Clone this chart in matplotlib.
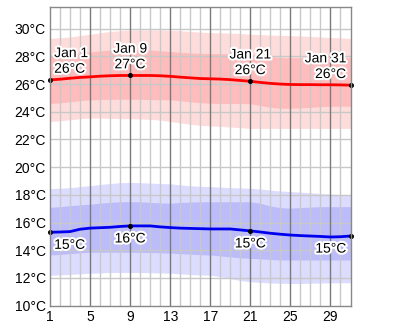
import matplotlib
matplotlib.use("Agg")
import matplotlib.pyplot as plt
import matplotlib.patheffects as pe
import numpy as np

days = list(range(1, 32))

high_mean = [26.3, 26.35, 26.42, 26.48, 26.52, 26.57, 26.6, 26.62, 26.62, 26.62, 26.62, 26.6, 26.56, 26.5,
             26.45, 26.4, 26.38, 26.36, 26.32, 26.26, 26.2, 26.12, 26.05, 26.0, 25.97, 25.96, 25.96, 25.95,
             25.95, 25.94, 25.92]
high_p75 = [28.1, 28.12, 28.18, 28.25, 28.32, 28.4, 28.45, 28.5, 28.5, 28.48, 28.45, 28.4, 28.35, 28.3,
            28.25, 28.22, 28.2, 28.2, 28.18, 28.16, 28.15, 28.1, 28.0, 27.92, 27.9, 27.9, 27.9, 27.9,
            27.9, 27.9, 27.9]
high_p25 = [24.6, 24.65, 24.72, 24.8, 24.86, 24.88, 24.9, 24.9, 24.9, 24.9, 24.88, 24.87, 24.86, 24.8,
            24.72, 24.65, 24.62, 24.6, 24.6, 24.6, 24.58, 24.45, 24.32, 24.25, 24.25, 24.28, 24.32, 24.36,
            24.4, 24.4, 24.4]
high_p90 = [29.3, 29.35, 29.4, 29.5, 29.6, 29.7, 29.8, 29.85, 29.9, 29.9, 29.9, 29.9, 29.88, 29.85,
            29.8, 29.75, 29.72, 29.7, 29.68, 29.65, 29.6, 29.57, 29.54, 29.52, 29.5, 29.47, 29.44, 29.4,
            29.36, 29.33, 29.3]
high_p10 = [23.3, 23.35, 23.42, 23.5, 23.54, 23.55, 23.52, 23.5, 23.5, 23.48, 23.45, 23.4, 23.3, 23.2,
            23.1, 23.02, 22.98, 22.95, 22.9, 22.85, 22.8, 22.8, 22.8, 22.8, 22.8, 22.8, 22.8, 22.8,
            22.8, 22.8, 22.8]

low_mean = [15.3, 15.32, 15.35, 15.52, 15.6, 15.63, 15.66, 15.72, 15.76, 15.76, 15.76, 15.69, 15.64, 15.6,
            15.58, 15.56, 15.54, 15.54, 15.54, 15.47, 15.4, 15.32, 15.23, 15.16, 15.1, 15.06, 15.03, 15.0,
            14.96, 14.98, 15.03]
low_p75 = [17.1, 17.15, 17.22, 17.28, 17.33, 17.4, 17.46, 17.5, 17.51, 17.5, 17.46, 17.42, 17.4, 17.45,
           17.48, 17.5, 17.5, 17.5, 17.5, 17.5, 17.5, 17.4, 17.2, 17.08, 17.04, 17.08, 17.12, 17.15,
           17.15, 17.15, 17.15]
low_p25 = [13.66, 13.7, 13.76, 13.82, 13.86, 13.86, 13.86, 13.86, 13.86, 13.85, 13.84, 13.82, 13.8, 13.76,
           13.72, 13.68, 13.66, 13.6, 13.52, 13.46, 13.42, 13.38, 13.34, 13.3, 13.3, 13.3, 13.3, 13.3,
           13.3, 13.3, 13.3]
low_p90 = [18.45, 18.48, 18.52, 18.6, 18.67, 18.75, 18.82, 18.88, 18.9, 18.88, 18.85, 18.82, 18.8, 18.72,
           18.66, 18.62, 18.6, 18.56, 18.52, 18.5, 18.48, 18.42, 18.35, 18.28, 18.24, 18.2, 18.15, 18.1,
           18.05, 18.02, 18.0]
low_p10 = [12.2, 12.22, 12.26, 12.3, 12.34, 12.37, 12.4, 12.4, 12.4, 12.4, 12.38, 12.36, 12.35, 12.3,
           12.25, 12.22, 12.2, 12.1, 11.95, 11.82, 11.73, 11.68, 11.64, 11.62, 11.6, 11.6, 11.62, 11.64,
           11.65, 11.66, 11.66]

y_ticks = [10, 12, 14, 16, 18, 20, 22, 24, 26, 28, 30]
y_tick_labels = [f"{t}°C" for t in y_ticks]
x_ticks = [1, 5, 9, 13, 17, 21, 25, 29]

label_days = [1, 9, 21, 31]
high_labels = ["Jan 1\n26°C", "Jan 9\n27°C", "Jan 21\n26°C", "Jan 31\n26°C"]
low_labels = ["15°C", "16°C", "15°C", "15°C"]

plt.rcParams['font.family'] = ['Liberation Sans', 'DejaVu Sans']

fig = plt.figure(figsize=(4.0, 3.29), dpi=100)
ax = fig.add_axes([50 / 400, 23.3 / 329, 300.5 / 400, 299.2 / 329])

ax.fill_between(days, high_p10, high_p90, color='#ffdcdc', lw=0, zorder=1)
ax.fill_between(days, high_p25, high_p75, color='#ffbcbc', lw=0, zorder=1.1)
ax.fill_between(days, low_p10, low_p90, color='#dcdcff', lw=0, zorder=1)
ax.fill_between(days, low_p25, low_p75, color='#bcbcfa', lw=0, zorder=1.1)

# grid
for d in range(2, 31):
    if (d - 1) % 4 == 0:
        ax.axvline(d, color='#7a7a7a', lw=1, zorder=2)
    else:
        ax.axvline(d, color='#c8c8c8', lw=1, zorder=1.9)
for t in y_ticks[1:]:
    ax.axhline(t, color='#c8c8c8', lw=1, zorder=1.9)

ax.plot(days, high_mean, color='#ff0000', lw=2, zorder=3, solid_capstyle='butt')
ax.plot(days, low_mean, color='#0000ee', lw=2, zorder=3, solid_capstyle='butt')

halo = [pe.withStroke(linewidth=3, foreground='white')]
for i, d in enumerate(label_days):
    hv = high_mean[d - 1]
    lv = low_mean[d - 1]
    ax.plot([d], [hv], 'o', color='black', ms=2.6, zorder=4, clip_on=False)
    ax.plot([d], [lv], 'o', color='black', ms=2.6, zorder=4, clip_on=False)
    if i == 0:
        ha, dx = 'left', 3
    elif i == len(label_days) - 1:
        ha, dx = 'right', -3
    else:
        ha, dx = 'center', 0
    ax.annotate(high_labels[i], (d, hv), xytext=(dx, 3), textcoords='offset points',
                ha=ha, va='bottom', fontsize=10, linespacing=1.15, color='black',
                path_effects=halo, zorder=5)
    ax.annotate(low_labels[i], (d, lv), xytext=(dx, -4), textcoords='offset points',
                ha=ha, va='top', fontsize=10, color='black',
                path_effects=halo, zorder=5)

ax.set_xlim(1, 31)
ax.set_ylim(10, 31.6)
ax.set_yticks(y_ticks)
ax.set_yticklabels(y_tick_labels)
ax.set_xticks(x_ticks)
ax.set_xticklabels([str(x) for x in x_ticks])
ax.tick_params(length=0, labelsize=10, pad=3)
for s in ax.spines.values():
    s.set_color('#888888')
    s.set_linewidth(1)
    s.set_zorder(6)

fig.savefig('out.png', dpi=100)
